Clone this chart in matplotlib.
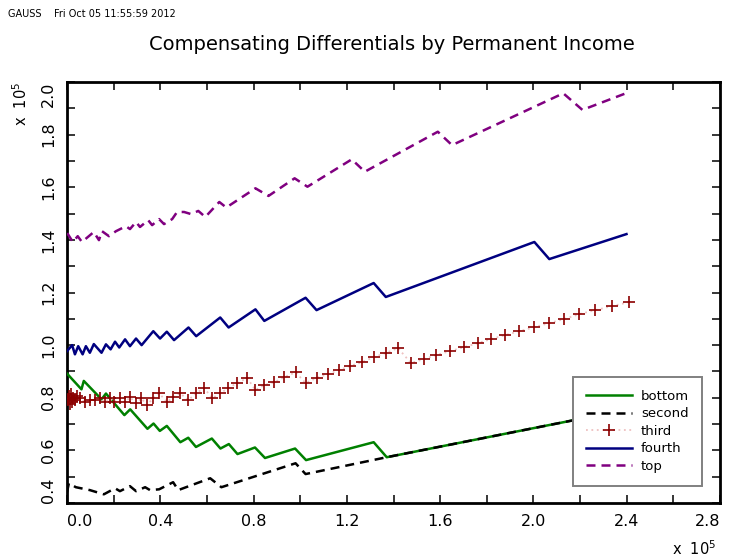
import matplotlib
matplotlib.use("Agg")
import matplotlib.pyplot as plt
from matplotlib.legend_handler import HandlerLine2D

# ---------------- data (values in units of 1e5) ----------------
bottom_x = [0.000, 0.062, 0.072, 0.148, 0.167, 0.246, 0.271, 0.345, 0.371, 0.398, 0.428,
            0.486, 0.520, 0.553, 0.621, 0.658, 0.694, 0.731, 0.806, 0.849, 0.978, 1.025,
            1.315, 1.371, 2.408]
bottom_y = [0.892, 0.832, 0.864, 0.794, 0.816, 0.734, 0.756, 0.682, 0.702, 0.674, 0.693,
            0.631, 0.648, 0.613, 0.645, 0.607, 0.624, 0.586, 0.611, 0.571, 0.607, 0.563,
            0.631, 0.574, 0.756]

second_x = [0.000, 0.008, 0.038, 0.098, 0.158, 0.206, 0.227, 0.270, 0.296, 0.335, 0.356,
            0.395, 0.455, 0.477, 0.614, 0.662, 0.980, 1.023, 1.371, 2.408]
second_y = [0.441, 0.475, 0.460, 0.449, 0.433, 0.456, 0.445, 0.464, 0.445, 0.460, 0.449,
            0.452, 0.479, 0.449, 0.494, 0.460, 0.551, 0.510, 0.574, 0.756]

third_x = [0.003, 0.008, 0.012, 0.016, 0.021, 0.025, 0.034, 0.042, 0.055, 0.077, 0.098,
           0.120, 0.141, 0.163, 0.184, 0.201, 0.227, 0.249, 0.270, 0.296, 0.319, 0.343,
           0.369, 0.395, 0.429, 0.455, 0.485, 0.520, 0.554, 0.588, 0.623, 0.657, 0.692,
           0.730, 0.773, 0.808, 0.846, 0.889, 0.932, 0.980, 1.023, 1.070, 1.118, 1.165,
           1.212, 1.264, 1.315, 1.367, 1.419, 1.475, 1.531, 1.582, 1.642, 1.702, 1.763,
           1.819, 1.879, 1.939, 2.004, 2.068, 2.132, 2.197, 2.266, 2.335, 2.408]
third_y = [0.791, 0.806, 0.776, 0.814, 0.783, 0.798, 0.791, 0.806, 0.798, 0.783, 0.791,
           0.791, 0.798, 0.783, 0.798, 0.783, 0.798, 0.783, 0.802, 0.779, 0.798, 0.772,
           0.798, 0.817, 0.783, 0.802, 0.817, 0.791, 0.817, 0.837, 0.798, 0.817, 0.837,
           0.856, 0.875, 0.829, 0.848, 0.859, 0.878, 0.897, 0.856, 0.875, 0.890, 0.905,
           0.920, 0.935, 0.954, 0.970, 0.989, 0.932, 0.947, 0.962, 0.977, 0.992, 1.008,
           1.023, 1.038, 1.053, 1.068, 1.084, 1.099, 1.118, 1.133, 1.148, 1.163]

fourth_x = [0.000, 0.022, 0.034, 0.048, 0.067, 0.081, 0.098, 0.115, 0.148, 0.167, 0.187,
            0.206, 0.224, 0.249, 0.270, 0.296, 0.320, 0.370, 0.399, 0.428, 0.459, 0.521,
            0.554, 0.657, 0.693, 0.808, 0.846, 1.023, 1.070, 1.315, 1.367, 2.004, 2.068,
            2.399]
fourth_y = [0.977, 1.000, 0.965, 0.996, 0.965, 0.996, 0.971, 1.004, 0.971, 1.003, 0.984,
            1.013, 0.991, 1.022, 0.996, 1.025, 1.000, 1.053, 1.025, 1.051, 1.019, 1.067,
            1.034, 1.105, 1.067, 1.136, 1.092, 1.180, 1.133, 1.236, 1.183, 1.392, 1.327,
            1.422]

top_x = [0.001, 0.025, 0.046, 0.064, 0.115, 0.137, 0.150, 0.180, 0.210, 0.253, 0.270,
         0.296, 0.313, 0.348, 0.365, 0.395, 0.416, 0.451, 0.472, 0.502, 0.532, 0.563,
         0.593, 0.653, 0.683, 0.808, 0.864, 0.976, 1.031, 1.221, 1.277, 1.590, 1.651,
         2.128, 2.210, 2.408]
top_y = [1.426, 1.392, 1.414, 1.392, 1.430, 1.399, 1.433, 1.414, 1.433, 1.452, 1.441,
         1.468, 1.449, 1.475, 1.456, 1.479, 1.460, 1.479, 1.506, 1.506, 1.498, 1.510,
         1.487, 1.544, 1.523, 1.596, 1.567, 1.634, 1.602, 1.706, 1.659, 1.811, 1.760,
         1.957, 1.894, 1.961]

series_labels = ["bottom", "second", "third", "fourth", "top"]
x_ticks = [0.0, 0.4, 0.8, 1.2, 1.6, 2.0, 2.4, 2.8]
x_tick_labels = ["0.0", "0.4", "0.8", "1.2", "1.6", "2.0", "2.4", "2.8"]
y_ticks = [0.4, 0.6, 0.8, 1.0, 1.2, 1.4, 1.6, 1.8, 2.0]
y_tick_labels = ["0.4", "0.6", "0.8", "1.0", "1.2", "1.4", "1.6", "1.8", "2.0"]
title = "Compensating Differentials by Permanent Income"
header = "GAUSS    Fri Oct 05 11:55:59 2012"

# ---------------- figure ----------------
W, H = 730, 558
fig = plt.figure(figsize=(W / 100, H / 100), dpi=100)
ax = fig.add_axes([67 / W, 1 - 503 / H, (720 - 67) / W, (503 - 82) / H])

GREEN = "#008000"
NAVY = "#000080"
PURPLE = "#800080"
MAROON = "#8b0000"
PINK = "#eec0c0"

lw = 1.8
ax.plot(bottom_x, bottom_y, color=GREEN, lw=lw, label=series_labels[0], zorder=3)
ax.plot(second_x, second_y, color="black", lw=lw, dashes=(3.6, 2.4),
        label=series_labels[1], zorder=4)
third_line, = ax.plot(third_x, third_y, color=PINK, lw=1.3, linestyle=(0, (1, 2)),
                      marker="+", markersize=8, markeredgewidth=1.2,
                      markeredgecolor=MAROON, markerfacecolor=MAROON,
                      label=series_labels[2], zorder=3)
ax.plot(fourth_x, fourth_y, color=NAVY, lw=lw, label=series_labels[3], zorder=3)
ax.plot(top_x, top_y, color=PURPLE, lw=lw, dashes=(3.6, 2.4),
        label=series_labels[4], zorder=3)

ax.set_xlim(0, 2.8)
ax.set_ylim(0.4, 2.0)

ax.set_xticks(x_ticks)
ax.set_xticklabels(x_tick_labels)
ax.set_xticks([0.2 * i for i in range(15)], minor=True)
ax.set_yticks(y_ticks)
ax.set_yticklabels(y_tick_labels, rotation=90, va="center")
ax.set_yticks([0.4 + 0.1 * i for i in range(17)], minor=True)

ax.tick_params(which="both", direction="in", top=True, right=True,
               length=5.5, width=1.1, color="black")
ax.tick_params(axis="x", which="major", labelsize=11.5, pad=8)
ax.tick_params(axis="y", which="major", labelsize=11.5, pad=8)

for s in ax.spines.values():
    s.set_linewidth(2.0)

# GAUSS-style end-label alignment
xt = ax.xaxis.get_major_ticks()
xt[0].label1.set_horizontalalignment("left")
xt[-1].label1.set_horizontalalignment("right")
yt = ax.yaxis.get_major_ticks()
yt[0].label1.set_verticalalignment("bottom")
yt[-1].label1.set_verticalalignment("top")


class LeftMarkerHandler(HandlerLine2D):
    def get_xdata(self, legend, xdescent, ydescent, width, height, fontsize):
        xdata, xm = super().get_xdata(legend, xdescent, ydescent, width, height, fontsize)
        return xdata, [-xdescent + 0.15 * width]


handles, labels = ax.get_legend_handles_labels()
leg = ax.legend(handles, labels, loc="upper left",
                bbox_to_anchor=(573 / W, 1 - 377 / H), bbox_transform=fig.transFigure,
                borderaxespad=0, fancybox=False, framealpha=1, edgecolor="#808080",
                fontsize=9.5, handlelength=3.5, handletextpad=0.7, labelspacing=0.35,
                borderpad=0.95, numpoints=1,
                handler_map={third_line: LeftMarkerHandler()})
leg.get_frame().set_linewidth(1.4)
leg.set_zorder(10)

fig.suptitle(title, x=392 / W, y=1 - 45 / H, va="center", fontsize=14)
fig.text(8 / W, 1 - 14 / H, header, fontsize=7, va="center", ha="left")
fig.text(21 / W, 1 - 104 / H, r"x  $10^5$", rotation=90, fontsize=10.5,
         va="center", ha="center")
fig.text(694 / W, 1 - 549 / H, r"x  $10^5$", fontsize=10.5, va="center", ha="center")

fig.savefig("out.png", dpi=100)
